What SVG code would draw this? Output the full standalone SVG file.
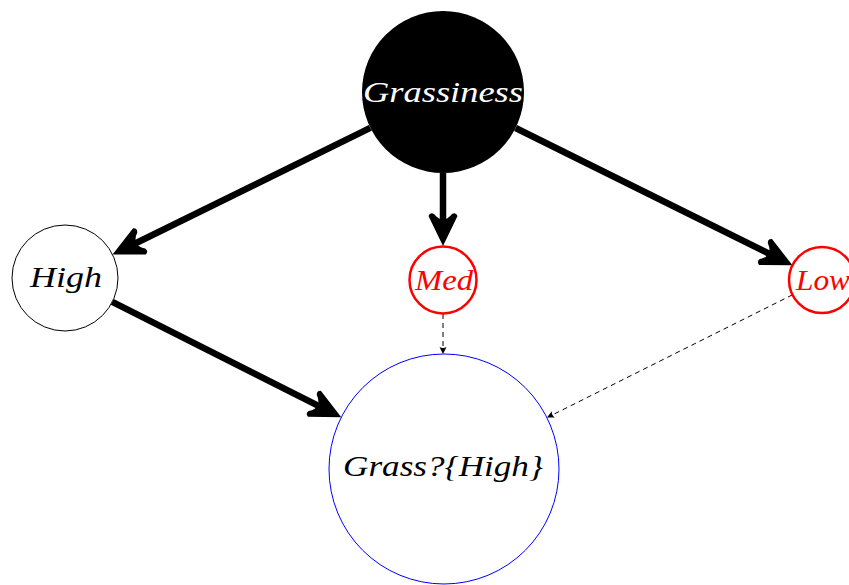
<svg xmlns="http://www.w3.org/2000/svg" width="849" height="585" viewBox="0 0 849 585">
<style>
text{font-family:"Liberation Serif","Times New Roman",serif;font-style:italic;font-size:30px;text-anchor:middle}
.thick{stroke:#000;stroke-width:6.5;fill:none;marker-end:url(#big)}
.dash{stroke:#000;stroke-width:1;fill:none;stroke-dasharray:5 4;marker-end:url(#small)}
</style>
<defs>
<marker id="big" markerUnits="userSpaceOnUse" viewBox="-36 -18 40 36" markerWidth="40" markerHeight="36" refX="-15" refY="0" orient="auto" overflow="visible">
<path d="M0,0 L-30,-14.5 Q-34,-13 -32,-9 Q-21,0 -32,9 Q-34,13 -30,14.5 Z" fill="#000"/>
</marker>
<marker id="small" markerUnits="userSpaceOnUse" viewBox="-10 -5 12 10" markerWidth="12" markerHeight="10" refX="-2" refY="0" orient="auto" overflow="visible">
<path d="M0,0 L-7,-3.5 Q-5,0 -7,3.5 Z" fill="#000"/>
</marker>
</defs>
<g id="edges">
<line class="thick" x1="370.3" y1="127.8" x2="126" y2="248"/>
<line class="thick" x1="443" y1="173" x2="443" y2="231"/>
<line class="thick" x1="515.6" y1="128" x2="779" y2="258.6"/>
<line class="thick" x1="112.3" y1="301.9" x2="327.9" y2="410.6"/>
<line class="dash" x1="443" y1="314" x2="443" y2="352"/>
<line class="dash" x1="792.5" y1="294.8" x2="548.8" y2="416.7"/>
</g>
<g id="grassiness">
<circle cx="443" cy="92" r="81" fill="#000"/>
<text x="443" y="102" fill="#fff" textLength="160" lengthAdjust="spacingAndGlyphs">Grassiness</text>
</g>
<g id="high">
<circle cx="65" cy="278" r="53" fill="#fff" stroke="#000" stroke-width="1"/>
<text x="66" y="287" fill="#000" textLength="72" lengthAdjust="spacingAndGlyphs">High</text>
</g>
<g id="med">
<circle cx="443" cy="280" r="33.5" fill="#fff" stroke="#f00" stroke-width="2.5"/>
<text x="444" y="290" fill="#f00" textLength="58" lengthAdjust="spacingAndGlyphs">Med</text>
</g>
<g id="low">
<circle cx="822" cy="280" r="33" fill="#fff" stroke="#f00" stroke-width="2.5"/>
<text x="823" y="290" fill="#f00" textLength="54" lengthAdjust="spacingAndGlyphs">Low</text>
</g>
<g id="grass">
<circle cx="444" cy="469" r="115" fill="none" stroke="#00f" stroke-width="1"/>
<text x="443" y="476" fill="#000" textLength="200" lengthAdjust="spacingAndGlyphs">Grass?{High}</text>
</g>
</svg>
